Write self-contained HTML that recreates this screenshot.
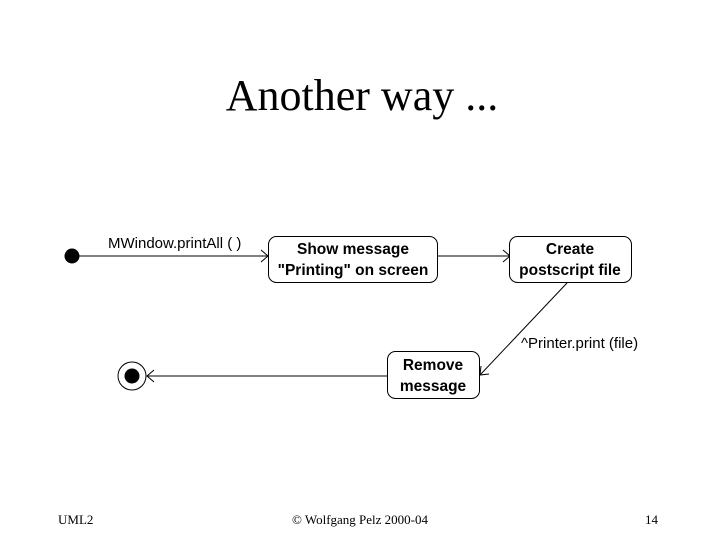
<!DOCTYPE html>
<html><head><style>
body{margin:0;background:#fff;width:720px;height:540px;overflow:hidden}
svg text{font-family:"Liberation Sans",sans-serif}
</style></head><body>
<svg width="720" height="540" xmlns="http://www.w3.org/2000/svg">
<text x="362" y="110" text-anchor="middle" style="font-family:'Liberation Serif',serif;font-size:44px">Another way ...</text>
<circle cx="72" cy="256" r="7.5" fill="#000"/>
<line x1="72" y1="256" x2="268" y2="256" stroke="#000"/>
<polyline points="261,250 268,256 261,262" fill="none" stroke="#000"/>
<text x="108" y="248" font-size="15">MWindow.printAll ( )</text>
<rect x="268.5" y="236.5" width="169" height="46" rx="8" fill="#fff" stroke="#000"/>
<text x="353" y="254" text-anchor="middle" font-size="15.5" font-weight="bold">Show message</text>
<text x="353" y="275" text-anchor="middle" font-size="15.5" font-weight="bold">"Printing" on screen</text>
<line x1="437" y1="256" x2="510" y2="256" stroke="#000"/>
<polyline points="503,250 510,256 503,262" fill="none" stroke="#000"/>
<rect x="509.5" y="236.5" width="122" height="46" rx="8" fill="#fff" stroke="#000"/>
<text x="570" y="254" text-anchor="middle" font-size="15.5" font-weight="bold">Create</text>
<text x="570" y="275" text-anchor="middle" font-size="15.5" font-weight="bold">postscript file</text>
<line x1="567" y1="283" x2="480" y2="375" stroke="#000"/>
<polyline points="481,366 480,375 489,374" fill="none" stroke="#000"/>
<text x="521" y="348" font-size="15">^Printer.print (file)</text>
<rect x="387.5" y="351.5" width="92" height="47" rx="8" fill="#fff" stroke="#000"/>
<text x="433" y="370" text-anchor="middle" font-size="15.5" font-weight="bold">Remove</text>
<text x="433" y="391" text-anchor="middle" font-size="15.5" font-weight="bold">message</text>
<line x1="387" y1="376" x2="147" y2="376" stroke="#000"/>
<polyline points="154,370 147,376 154,382" fill="none" stroke="#000"/>
<circle cx="132" cy="376" r="14" fill="#fff" stroke="#000"/>
<circle cx="132" cy="376" r="7.5" fill="#000"/>
<text x="58" y="524" font-size="13" style="font-family:'Liberation Serif',serif">UML2</text>
<text x="360" y="524" text-anchor="middle" font-size="13" style="font-family:'Liberation Serif',serif">© Wolfgang Pelz 2000-04</text>
<text x="645" y="524" font-size="13" style="font-family:'Liberation Serif',serif">14</text>
</svg>
</body></html>
